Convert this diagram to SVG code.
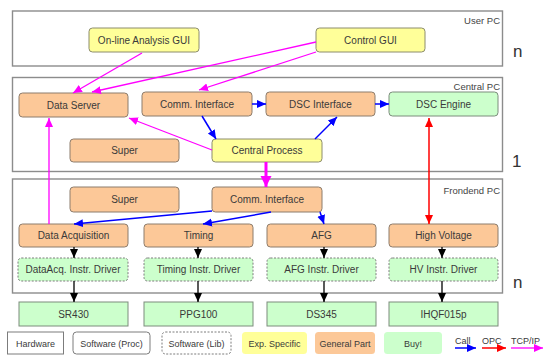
<svg xmlns="http://www.w3.org/2000/svg" width="544" height="358" viewBox="0 0 544 358">
  <style>
    text { font-family: "Liberation Sans", Arial, sans-serif; font-size: 10px; fill: #3a3a3a; }
    .panel { fill: #ffffff; stroke: #8c8c8c; stroke-width: 1.4; }
    .plabel { font-size: 9.5px; text-anchor: end; fill: #444; }
    .mult { font-size: 17px; fill: #333; }
    .yel { fill: #ffff99; stroke: #8c8c6c; stroke-width: 1; }
    .org { fill: #fcc898; stroke: #8c7c6c; stroke-width: 1; }
    .grn { fill: #ccffcc; stroke: #7c8c7c; stroke-width: 1; }
    .lib { fill: #ccffcc; stroke: #7c7c7c; stroke-width: 1; stroke-dasharray: 2 1.5; }
    .hw  { fill: #ccffcc; stroke: #7c8c7c; stroke-width: 1; }
    .c { text-anchor: middle; }
    .mag { stroke: #ff00ff; stroke-width: 1.3; fill: none; marker-end: url(#ahMag); }
    .magB { stroke: #ff00ff; stroke-width: 3; fill: none; marker-end: url(#ahMagB); }
    .blu { stroke: #0000ff; stroke-width: 1.5; fill: none; marker-end: url(#ahBlu); }
    .red { stroke: #ff0000; stroke-width: 1.5; fill: none; marker-start: url(#ahRedS); marker-end: url(#ahRed); }
    .blk { stroke: #000000; stroke-width: 1.3; fill: none; marker-end: url(#ahBlk); }
  </style>
  <defs>
    <marker id="ahMag" markerUnits="userSpaceOnUse" markerWidth="10" markerHeight="10" refX="9" refY="5" orient="auto"><path d="M0,1 L9,5 L0,9 Z" fill="#ff00ff"/></marker>
    <marker id="ahMagB" markerUnits="userSpaceOnUse" markerWidth="12" markerHeight="12" refX="11" refY="6" orient="auto"><path d="M0,0.5 L11,6 L0,11.5 Z" fill="#ff00ff"/></marker>
    <marker id="ahBlu" markerUnits="userSpaceOnUse" markerWidth="10" markerHeight="10" refX="9" refY="5" orient="auto"><path d="M0,1 L9,5 L0,9 Z" fill="#0000ff"/></marker>
    <marker id="ahRed" markerUnits="userSpaceOnUse" markerWidth="10" markerHeight="10" refX="9" refY="5" orient="auto"><path d="M0,1 L9,5 L0,9 Z" fill="#ff0000"/></marker>
    <marker id="ahRedS" markerUnits="userSpaceOnUse" markerWidth="10" markerHeight="10" refX="1" refY="5" orient="auto"><path d="M10,1 L1,5 L10,9 Z" fill="#ff0000"/></marker>
    <marker id="ahBlk" markerUnits="userSpaceOnUse" markerWidth="10" markerHeight="10" refX="9" refY="5" orient="auto"><path d="M0,1 L9,5 L0,9 Z" fill="#000000"/></marker>
  </defs>

  <rect width="544" height="358" fill="#ffffff"/>

  <!-- tier panels -->
  <g id="panel-user">
    <rect class="panel" x="12.5" y="11" width="490" height="55"/>
    <text class="plabel" x="500" y="24">User PC</text>
    <text class="mult" x="513" y="57">n</text>
  </g>
  <g id="panel-central">
    <rect class="panel" x="12.5" y="77.5" width="490" height="94"/>
    <text class="plabel" x="500" y="90">Central PC</text>
    <text class="mult" x="512" y="167">1</text>
  </g>
  <g id="panel-frontend">
    <rect class="panel" x="12.5" y="179" width="490" height="114"/>
    <text class="plabel" x="500" y="194">Frondend PC</text>
    <text class="mult" x="513" y="288">n</text>
  </g>

  <!-- user PC nodes -->
  <g id="online-gui"><rect class="yel" x="89" y="28" width="110" height="24" rx="3.5"/><text class="c" x="144" y="43.5">On-line Analysis GUI</text></g>
  <g id="control-gui"><rect class="yel" x="316" y="28" width="109" height="24" rx="3.5"/><text class="c" x="370.5" y="43.5">Control GUI</text></g>

  <!-- central PC nodes -->
  <g id="data-server"><rect class="org" x="19" y="93" width="109" height="24" rx="3.5"/><text class="c" x="73.5" y="108.5">Data Server</text></g>
  <g id="comm-central"><rect class="org" x="142" y="92" width="110" height="24" rx="3.5"/><text class="c" x="197" y="107.5">Comm. Interface</text></g>
  <g id="dsc-interface"><rect class="org" x="266" y="92" width="109" height="24" rx="3.5"/><text class="c" x="320.5" y="107.5">DSC Interface</text></g>
  <g id="dsc-engine"><rect class="grn" x="389" y="92" width="109" height="24" rx="3.5"/><text class="c" x="443.5" y="107.5">DSC Engine</text></g>
  <g id="super-central"><rect class="org" x="70" y="139" width="109" height="23" rx="3.5"/><text class="c" x="124.5" y="154">Super</text></g>
  <g id="central-process"><rect class="yel" x="212" y="139" width="110" height="23" rx="3.5"/><text class="c" x="267" y="154">Central Process</text></g>

  <!-- front-end PC nodes -->
  <g id="super-frontend"><rect class="org" x="70" y="187" width="109" height="25" rx="3.5"/><text class="c" x="124.5" y="203">Super</text></g>
  <g id="comm-frontend"><rect class="org" x="212" y="187" width="110" height="25" rx="3.5"/><text class="c" x="267" y="203">Comm. Interface</text></g>
  <g id="data-acq"><rect class="org" x="19" y="224" width="109" height="23" rx="3.5"/><text class="c" x="73.5" y="239">Data Acquisition</text></g>
  <g id="timing"><rect class="org" x="144" y="224" width="109" height="23" rx="3.5"/><text class="c" x="198.5" y="239">Timing</text></g>
  <g id="afg"><rect class="org" x="267" y="224" width="109" height="23" rx="3.5"/><text class="c" x="321.5" y="239">AFG</text></g>
  <g id="high-voltage"><rect class="org" x="389" y="224" width="109" height="23" rx="3.5"/><text class="c" x="443.5" y="239">High Voltage</text></g>
  <g id="drv-dataacq"><rect class="lib" x="18" y="258" width="110" height="23" rx="3.5"/><text class="c" x="73" y="273">DataAcq. Instr. Driver</text></g>
  <g id="drv-timing"><rect class="lib" x="144" y="258" width="109" height="23" rx="3.5"/><text class="c" x="198.5" y="273">Timing Instr. Driver</text></g>
  <g id="drv-afg"><rect class="lib" x="267" y="258" width="109" height="23" rx="3.5"/><text class="c" x="321.5" y="273">AFG Instr. Driver</text></g>
  <g id="drv-hv"><rect class="lib" x="389" y="258" width="109" height="23" rx="3.5"/><text class="c" x="443.5" y="273">HV Instr. Driver</text></g>

  <!-- hardware -->
  <g id="hw-sr430"><rect class="hw" x="19" y="302" width="109" height="24"/><text class="c" x="73.5" y="317.5">SR430</text></g>
  <g id="hw-ppg100"><rect class="hw" x="144" y="302" width="109" height="24"/><text class="c" x="198.5" y="317.5">PPG100</text></g>
  <g id="hw-ds345"><rect class="hw" x="267" y="302" width="109" height="24"/><text class="c" x="321.5" y="317.5">DS345</text></g>
  <g id="hw-ihqf"><rect class="hw" x="389" y="302" width="109" height="24"/><text class="c" x="443.5" y="317.5">IHQF015p</text></g>

  <!-- connectors -->
  <g id="connectors">
    <path class="mag" d="M142,53 L73,93"/>
    <path class="mag" d="M316,42 L92,92"/>
    <path class="mag" d="M316,52 L199,90"/>
    <path class="mag" d="M212,150 L129,118"/>
    <path class="mag" d="M49,224 L49,118"/>
    <path class="magB" d="M266,162 L266,187"/>
    <path class="blu" d="M252,104 L266,104"/>
    <path class="blu" d="M375,104 L389,104"/>
    <path class="blu" d="M202,116 L216,139"/>
    <path class="blu" d="M315,139 L337,117"/>
    <path class="blu" d="M212,211 L74,224"/>
    <path class="blu" d="M271,212 L203,224"/>
    <path class="blu" d="M320,212 L324,224"/>
    <path class="red" d="M429,118 L429,224"/>
    <path class="blk" d="M74,247 L74,258"/>
    <path class="blk" d="M198,247 L198,258"/>
    <path class="blk" d="M324,247 L324,258"/>
    <path class="blk" d="M442,247 L442,258"/>
    <path class="blk" d="M74,281 L74,302"/>
    <path class="blk" d="M198,281 L198,302"/>
    <path class="blk" d="M324,281 L324,302"/>
    <path class="blk" d="M442,281 L442,302"/>
  </g>

  <!-- legend -->
  <g id="legend">
    <rect x="7.5" y="332" width="56" height="22" fill="#fff" stroke="#7c7c7c"/>
    <text class="c" x="35.5" y="346.5" style="font-size:9px">Hardware</text>
    <rect x="73" y="332" width="77" height="22" rx="3.5" fill="#fff" stroke="#7c7c7c"/>
    <text class="c" x="111.5" y="346.5" style="font-size:9px">Software (Proc)</text>
    <rect x="162" y="332" width="69" height="22" rx="3.5" fill="#fff" stroke="#7c7c7c" stroke-dasharray="2 1.5"/>
    <text class="c" x="196.5" y="346.5" style="font-size:9px">Software (Lib)</text>
    <rect x="242" y="332" width="65" height="22" rx="3.5" fill="#ffff99"/>
    <text class="c" x="274.5" y="346.5" style="font-size:9px">Exp. Specific</text>
    <rect x="315" y="332" width="60" height="22" rx="3.5" fill="#fcc898"/>
    <text class="c" x="345" y="346.5" style="font-size:9px">General Part</text>
    <rect x="384" y="332" width="58" height="22" rx="3.5" fill="#ccffcc"/>
    <text class="c" x="413" y="346.5" style="font-size:9px">Buy!</text>
    <text x="455" y="344" style="font-size:9px">Call</text>
    <path class="blu" d="M455,348 L476,348"/>
    <text x="482" y="344" style="font-size:9px">OPC</text>
    <path d="M482,348 L506,348" stroke="#ff0000" stroke-width="1.5" fill="none" marker-end="url(#ahRed)"/>
    <text x="511" y="344" style="font-size:9px">TCP/IP</text>
    <path class="mag" d="M511,348 L543,348"/>
  </g>
</svg>
